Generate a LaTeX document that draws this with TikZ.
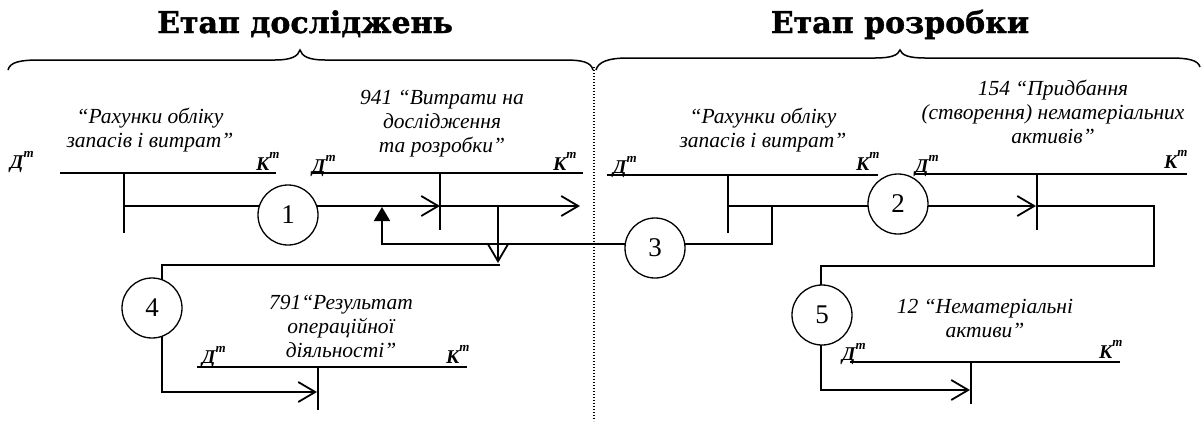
\documentclass[tikz,border=0pt]{standalone}
\usepackage{fontspec}
\setmainfont{Liberation Serif}
\newfontfamily\titlefont{DejaVu Serif}[BoldFeatures={FakeBold=1.2}]
\usetikzlibrary{arrows.meta,backgrounds}
\newcommand\DebT{{\bfseries\itshape Д\raisebox{0.55em}{\fontsize{13}{13}\selectfont т}}}
\newcommand\KrT{{\bfseries\itshape К\raisebox{0.6em}{\fontsize{13}{13}\selectfont т}}}
\begin{document}
\begin{tikzpicture}[x=1pt,y=-1pt,
  ln/.style={line width=1.8pt},
  circ/.style={circle,draw,line width=1.3pt,fill=white,minimum size=60pt,inner sep=0pt,font=\fontsize{27}{27}\selectfont},
  lbl/.style={align=center,font=\itshape\fontsize{21.5}{24}\selectfont,inner sep=0pt,anchor=base},
  dk/.style={font=\fontsize{19.5}{19.5}\selectfont,inner sep=0pt,anchor=base west},
  ttl/.style={font=\titlefont\bfseries\fontsize{30}{32}\selectfont,inner sep=0pt,anchor=base},
  brace/.style={line width=1.5pt},
  openarr/.style={-{Straight Barb[length=17pt,width=20pt]}},
  fillarr/.style={-{Triangle[length=14pt,width=16pt]}}]
\useasboundingbox (0,0) rectangle (1203,421);
% titles
\node[ttl] (t1) at (305,33) {Етап досліджень};
\node[ttl] (t2) at (900,33) {Етап розробки};
% braces
\draw[brace] (8,70) .. controls (10,62) and (20,60) .. (40,60) -- (275,60)
  .. controls (292,60) and (298,56) .. (300,50)
  .. controls (302,56) and (308,60) .. (325,60) -- (565,60)
  .. controls (582,60) and (591,62) .. (593,70);
\draw[brace] (596,70) .. controls (598,62) and (608,58) .. (628,58) -- (875,58)
  .. controls (892,58) and (898,55) .. (900,50)
  .. controls (902,55) and (908,58) .. (925,58) -- (1170,58)
  .. controls (1188,58) and (1198,60) .. (1200,67);
\draw[line width=1.2pt,dash pattern=on 1pt off 2pt] (594,67) -- (594,421);
% circles
\node[circ] (c1) at (288,215) {1};
\node[circ] (c2) at (898,204) {2};
\node[circ] (c3) at (655,248) {3};
\node[circ] (c4) at (152,308) {4};
\node[circ] (c5) at (822,315) {5};
% account labels (anchor base = last line)
\node[lbl] (lA) at (150,147) {“Рахунки обліку\\запасів і витрат”};
\node[lbl] (lB) at (442,152) {941 “Витрати на\\дослідження\\та розробки”};
\node[lbl] (lC) at (763,147) {“Рахунки обліку\\запасів і витрат”};
\node[lbl] (lD) at (1053,143) {154 “Придбання\\(створення) нематеріальних\\активів”};
\node[lbl] (lE) at (341,357) {791“Результат\\операційної\\діяльності”};
\node[lbl] (lF) at (985,337) {12 “Нематеріальні\\активи”};
% debit / credit marks
\node[dk] (dA) at (10,168) {\DebT};  \node[dk] (kA) at (256,170) {\KrT};
\node[dk] (dB) at (312,172) {\DebT}; \node[dk] (kB) at (553,170) {\KrT};
\node[dk] (dC) at (613,173) {\DebT}; \node[dk] (kC) at (856,170) {\KrT};
\node[dk] (dD) at (915,172) {\DebT}; \node[dk] (kD) at (1164,168) {\KrT};
\node[dk] (dE) at (202,363) {\DebT}; \node[dk] (kE) at (446,363) {\KrT};
\node[dk] (dF) at (842,360) {\DebT}; \node[dk] (kF) at (1099,358) {\KrT};
% coordinates
\coordinate (Al) at (60,173);  \coordinate (Ar) at (276,173);
\coordinate (At) at (124,173); \coordinate (Ab) at (124,233);
\coordinate (Bl) at (312,173); \coordinate (Br) at (583,173);
\coordinate (Bt) at (440,173); \coordinate (Bb) at (440,230);
\coordinate (Cl) at (607,175); \coordinate (Cr) at (878,175);
\coordinate (Ct) at (728,175); \coordinate (Cb) at (728,233);
\coordinate (Dl) at (915,174); \coordinate (Dr) at (1187,174);
\coordinate (Dt) at (1037,174); \coordinate (Db) at (1037,230);
\coordinate (El) at (197,367); \coordinate (Er) at (467,367);
\coordinate (Et) at (318,367); \coordinate (Eb) at (318,410);
\coordinate (Fl) at (850,362); \coordinate (Fr) at (1120,362);
\coordinate (Ft) at (971,362); \coordinate (Fb) at (971,404);
\coordinate (a1) at (124,206); \coordinate (b1) at (440,206);
\coordinate (b2) at (580,206); \coordinate (b3) at (498,206);
\coordinate (b4) at (498,263); \coordinate (e0) at (500,265);
\coordinate (e1) at (162,265); \coordinate (e2) at (162,392);
\coordinate (e3) at (317,392);
\coordinate (c3r) at (772,206); \coordinate (c3m) at (772,244);
\coordinate (c3l) at (382,244); \coordinate (c3u) at (382,207);
\coordinate (cc) at (728,206); \coordinate (dd) at (1036,206);
\coordinate (d1) at (1154,206); \coordinate (d2) at (1154,266);
\coordinate (f1) at (821,266); \coordinate (f2) at (821,390);
\coordinate (f3) at (970,390);
\begin{scope}[on background layer]
\draw[ln] (Al) -- (Ar); \draw[ln] (At) -- (Ab);
\draw[ln] (Bl) -- (Br); \draw[ln] (Bt) -- (Bb);
\draw[ln] (Cl) -- (Cr); \draw[ln] (Ct) -- (Cb);
\draw[ln] (Dl) -- (Dr); \draw[ln] (Dt) -- (Db);
\draw[ln] (El) -- (Er); \draw[ln] (Et) -- (Eb);
\draw[ln] (Fl) -- (Fr); \draw[ln] (Ft) -- (Fb);
% 1: through circle c1
\draw[ln,openarr] (a1) -- (b1);
\draw[ln,openarr] (b1) -- (b2);
\draw[ln,openarr] (b3) -- (b4);
% 4: through circle c4
\draw[ln,openarr] (e0) -- (e1) -- (e2) -- (e3);
% 3: through circle c3
\draw[ln,fillarr] (c3r) -- (c3m) -- (c3l) -- (c3u);
% 2: through circle c2
\draw[ln,openarr] (cc) -- (dd);
% 5: through circle c5
\draw[ln,openarr] (dd) -- (d1) -- (d2) -- (f1) -- (f2) -- (f3);
\end{scope}
\end{tikzpicture}
\end{document}
